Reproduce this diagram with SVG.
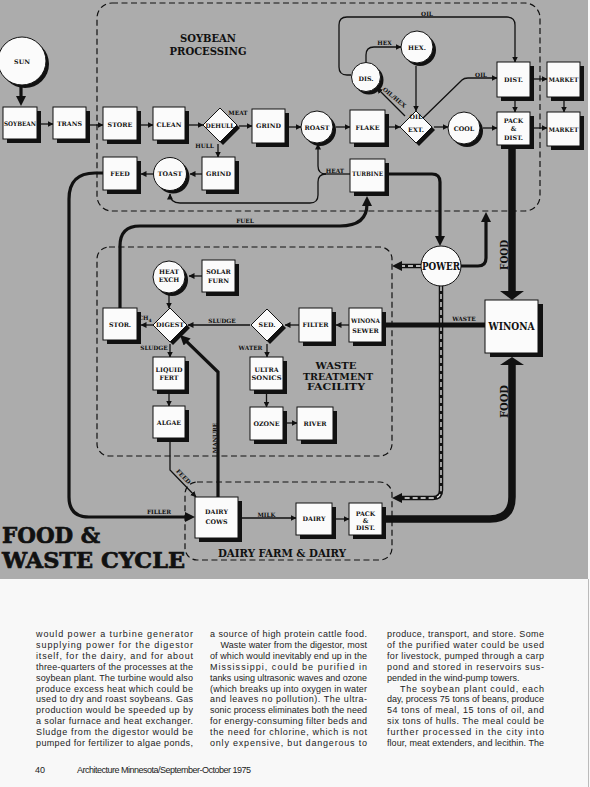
<svg xmlns="http://www.w3.org/2000/svg" width="590" height="787" viewBox="0 0 590 787">
<defs>
<style>
.bx{fill:#fbfbfb;stroke:#111;stroke-width:1}
.sh{fill:#111}
.t{font-family:"DejaVu Serif","Liberation Serif",serif;font-weight:bold;font-size:6.3px;text-anchor:middle;fill:#111}
.l{font-family:"DejaVu Serif","Liberation Serif",serif;font-weight:bold;font-size:5.8px;text-anchor:middle;fill:#111}
.h{font-family:"DejaVu Serif","Liberation Serif",serif;font-weight:bold;text-anchor:middle;fill:#111}
.c{fill:none;stroke:#111;stroke-width:1.3;marker-end:url(#a)}
.k{fill:none;stroke:#111;stroke-width:3.2;marker-end:url(#b)}
.d{fill:none;stroke:#111;stroke-width:1.2;stroke-dasharray:6 3.5}
.w1{fill:none;stroke:#111;stroke-width:4.5;marker-end:url(#b)}
.w2{fill:none;stroke:#eee;stroke-width:1.3;stroke-dasharray:5 3}
.p{font-family:"Liberation Sans",Arial,sans-serif;font-size:9px;fill:#222}
</style>
<marker id="a" viewBox="0 0 6 6" refX="5.5" refY="3" markerWidth="6" markerHeight="6" orient="auto" markerUnits="userSpaceOnUse"><path d="M0,0L6,3L0,6z" fill="#111"/></marker>
<marker id="b" viewBox="0 0 10 10" refX="2" refY="5" markerWidth="10" markerHeight="10" orient="auto" markerUnits="userSpaceOnUse"><path d="M0,0L10,5L0,10z" fill="#111"/></marker>
<marker id="c" viewBox="0 0 9 12" refX="1" refY="6" markerWidth="9" markerHeight="12" orient="auto" markerUnits="userSpaceOnUse"><path d="M0,0L9,6L0,12z" fill="#111"/></marker>
</defs>
<rect x="0" y="0" width="590" height="787" fill="#f8f8f8"/>
<rect x="0" y="0" width="588" height="579" fill="#acacac"/>
<line x1="588.5" y1="579" x2="588.5" y2="787" stroke="#bbb" stroke-width="1"/>

<g id="groups">
<rect class="d" x="97" y="3" width="443" height="208" rx="15"/>
<rect class="d" x="97" y="247" width="295" height="209" rx="12"/>
<rect class="d" x="185" y="482" width="207" height="78" rx="12"/>
<text class="h" font-size="11.5" x="208" y="42" textLength="56" lengthAdjust="spacingAndGlyphs">SOYBEAN</text>
<text class="h" font-size="11.5" x="208" y="54.5" textLength="77" lengthAdjust="spacingAndGlyphs">PROCESSING</text>
<text class="h" font-size="9" x="336" y="369" textLength="41" lengthAdjust="spacingAndGlyphs">WASTE</text>
<text class="h" font-size="9" x="338" y="379.5" textLength="70" lengthAdjust="spacingAndGlyphs">TREATMENT</text>
<text class="h" font-size="9" x="336" y="390" textLength="58" lengthAdjust="spacingAndGlyphs">FACILITY</text>
<text class="h" font-size="10.5" x="282" y="557" textLength="128" lengthAdjust="spacingAndGlyphs">DAIRY  FARM &amp; DAIRY</text>
<text class="h" font-size="23" x="2" y="543" style="text-anchor:start" stroke="#111" stroke-width="0.7" textLength="98" lengthAdjust="spacingAndGlyphs">FOOD &amp;</text>
<text class="h" font-size="23" x="2" y="568" style="text-anchor:start" stroke="#111" stroke-width="0.7" textLength="183" lengthAdjust="spacingAndGlyphs">WASTE CYCLE</text>
</g>

<g id="connectors">
<path class="c" d="M41,124H53"/>
<path class="c" d="M90,125H103"/>
<path class="c" d="M141,125H153"/>
<path class="c" d="M189,125H203"/>
<path class="c" d="M239,126H252"/>
<path class="c" d="M289,127H301"/>
<path class="c" d="M336,127H350"/>
<path class="c" d="M389,127H400"/>
<path class="c" d="M434,127H448"/>
<path class="c" d="M483,128H497"/>
<path class="c" d="M534,79H547"/>
<path class="c" d="M534,128H547"/>
<path class="c" d="M564,101V112"/>
<path class="c" d="M515,101V112"/>
<path class="c" d="M218,144V157"/>
<path class="c" d="M202,174H190"/>
<path class="c" d="M153,174H141"/>
<path fill="none" stroke="#111" stroke-width="1.3" d="M350,174H326"/>
<path class="c" d="M326,174Q318,174 318,166V144"/>
<path class="c" d="M326,174Q318,174 318,182V195Q318,203 310,203H180Q170,203 170,194"/>
<path class="c" d="M351,75H347Q339,75 339,67V25Q339,17 347,17H507Q515,17 515,25V62"/>
<path class="c" d="M366,62V55Q366,47 374,47H401"/>
<path class="c" d="M416,66V111"/>
<path class="c" d="M405,116L377,88"/>
<path class="c" d="M423,118L462,80Q464,78 468,78H497"/>
<path class="k" d="M21,86V98"/>
<path class="k" d="M120,308V246Q120,226 140,226H340Q367,226 367,204"/>
<path class="k" d="M389,174H432Q440,174 440,182V238"/>
<path class="k" stroke-width="3.5" d="M103,173H95Q69,173 69,199V497Q69,517 89,517H187"/>
<path class="k" d="M461,266H478Q486,266 486,258V220"/>
<path class="w1" d="M421,266H400"/>
<path class="w2" d="M421,266H402"/>
<path class="w1" d="M441,286V490Q441,498 433,498H400"/>
<path class="w2" d="M441,286V490Q441,498 433,498H402"/>
<path fill="none" stroke="#111" stroke-width="7.5" d="M512,149V292"/>
<polygon points="500,291 524,291 512,300" fill="#111"/>
<path fill="none" stroke="#111" stroke-width="7.5" d="M386,519H490Q512,519 512,497V364"/>
<polygon points="500,365 524,365 512,357" fill="#111"/>
<path fill="none" stroke="#111" stroke-width="5" marker-end="url(#c)" d="M485,325H377"/>
<path class="c" d="M202,276H189"/>
<path class="c" d="M169,295V308"/>
<path class="c" d="M153,325H141"/>
<path class="c" d="M250,325H188"/>
<path class="c" d="M299,325H285"/>
<path class="c" d="M349,325H336"/>
<path class="c" d="M170,344V357"/>
<path class="c" d="M169,394V406"/>
<path class="c" d="M267,344V357"/>
<path class="c" d="M266.5,394V407"/>
<path class="c" d="M287,423H297"/>
<path class="c" stroke-width="2" d="M170,442V470L196,497"/>
<path class="k" stroke-width="3.5" d="M218,497V372L185.7,340.6"/>
<path class="c" d="M242,518H296"/>
<path class="c" d="M336,519H349"/>
<text class="l" x="238" y="115">MEAT</text>
<text class="l" x="204.5" y="148">HULL</text>
<text class="l" x="335" y="172.5">HEAT</text>
<text class="l" x="245" y="223">FUEL</text>
<text class="l" x="427" y="15.5">OIL</text>
<text class="l" x="384.5" y="45">HEX</text>
<text class="l" x="481" y="76.5">OIL</text>
<text class="l" x="393" y="99" transform="rotate(40 393 99)">OIL/HEX</text>
<text class="l" x="464" y="321">WASTE</text>
<text class="l" x="145" y="320">CH<tspan font-size="4.5" dy="2">4</tspan></text>
<text class="l" x="222" y="323">SLUDGE</text>
<text class="l" x="154" y="350">SLUDGE</text>
<text class="l" x="250.5" y="350">WATER</text>
<text class="l" x="266.5" y="516.5">MILK</text>
<text class="l" x="159" y="514">FILLER</text>
<text class="l" x="182" y="478" transform="rotate(46 182 478)">FEED</text>
<text class="l" x="216.5" y="438" transform="rotate(-90 216.5 438)">MANURE</text>
<text class="h" font-size="11.5" x="508" y="255" transform="rotate(-90 508 255)" textLength="30" lengthAdjust="spacingAndGlyphs">FOOD</text>
<text class="h" font-size="11.5" x="508" y="401.5" transform="rotate(-90 508 401.5)" textLength="33" lengthAdjust="spacingAndGlyphs">FOOD</text>
</g>

<g id="n-sun"><circle class="sh" cx="25" cy="64" r="24"/><circle class="bx" cx="22" cy="61" r="24"/><text class="t" x="22" y="64">SUN</text></g>
<g id="n-soybean"><rect class="sh" x="7" y="111" width="34" height="32"/><rect class="bx" x="3" y="107" width="34" height="32"/><text class="t" x="20" y="126" textLength="32" lengthAdjust="spacingAndGlyphs">SOYBEAN</text></g>
<g id="n-trans"><rect class="sh" x="57" y="111" width="33" height="32"/><rect class="bx" x="53" y="107" width="33" height="32"/><text class="t" x="69.5" y="126">TRANS</text></g>
<g id="n-store"><rect class="sh" x="107" y="111" width="34" height="33"/><rect class="bx" x="103" y="107" width="34" height="33"/><text class="t" x="120" y="127">STORE</text></g>
<g id="n-clean"><rect class="sh" x="157" y="111" width="32" height="33"/><rect class="bx" x="153" y="107" width="32" height="33"/><text class="t" x="169" y="127">CLEAN</text></g>
<g id="n-dehull"><polygon class="sh" points="223,111 240,128 223,145 206,128"/><polygon class="bx" points="220,108 237,125 220,142 203,125"/><text class="t" x="220" y="127.5" textLength="29" lengthAdjust="spacingAndGlyphs">DEHULL</text></g>
<g id="n-grind1"><rect class="sh" x="256" y="113" width="33" height="34"/><rect class="bx" x="252" y="109" width="33" height="34"/><text class="t" x="268.5" y="128">GRIND</text></g>
<g id="n-roast"><circle class="sh" cx="320" cy="130" r="16"/><circle class="bx" cx="317" cy="127" r="16"/><text class="t" x="317" y="129.5">ROAST</text></g>
<g id="n-flake"><rect class="sh" x="354" y="114" width="35" height="33"/><rect class="bx" x="350" y="110" width="35" height="33"/><text class="t" x="367.5" y="129.5">FLAKE</text></g>
<g id="n-oilext"><polygon class="sh" points="419,114 435,130 419,146 403,130"/><polygon class="bx" points="416,111 432,127 416,143 400,127"/><text class="t" font-size="6.8" x="416" y="118.5">OIL</text><text class="t" font-size="6.8" x="416" y="131.5">EXT.</text></g>
<g id="n-cool"><circle class="sh" cx="467" cy="131" r="16"/><circle class="bx" cx="464" cy="128" r="16"/><text class="t" font-size="6.8" x="464" y="130.5">COOL</text></g>
<g id="n-packdist1"><rect class="sh" x="501" y="116" width="33" height="33"/><rect class="bx" x="497" y="112" width="33" height="33"/><text class="t" x="513.5" y="122.5">PACK</text><text class="t" x="513.5" y="131">&amp;</text><text class="t" x="513.5" y="139.5">DIST.</text></g>
<g id="n-dist"><rect class="sh" x="501" y="66" width="33" height="35"/><rect class="bx" x="497" y="62" width="33" height="35"/><text class="t" x="513.5" y="81.5">DIST.</text></g>
<g id="n-market1"><rect class="sh" x="551" y="66" width="33" height="35"/><rect class="bx" x="547" y="62" width="33" height="35"/><text class="t" x="563.5" y="81.5" textLength="30" lengthAdjust="spacingAndGlyphs">MARKET</text></g>
<g id="n-market2"><rect class="sh" x="551" y="116" width="33" height="34"/><rect class="bx" x="547" y="112" width="33" height="34"/><text class="t" x="563.5" y="131.5" textLength="30" lengthAdjust="spacingAndGlyphs">MARKET</text></g>
<g id="n-dis"><circle class="sh" cx="369" cy="80" r="14.5"/><circle class="bx" cx="366" cy="77" r="14.5"/><text class="t" x="366" y="80.5">DIS.</text></g>
<g id="n-hex"><circle class="sh" cx="420" cy="50" r="16"/><circle class="bx" cx="417" cy="47" r="16"/><text class="t" x="417" y="49.5">HEX.</text></g>
<g id="n-grind2"><rect class="sh" x="206" y="161" width="33" height="33"/><rect class="bx" x="202" y="157" width="33" height="33"/><text class="t" x="218.5" y="176">GRIND</text></g>
<g id="n-toast"><circle class="sh" cx="173" cy="177" r="16.5"/><circle class="bx" cx="170" cy="174" r="16.5"/><text class="t" x="170" y="176.3">TOAST</text></g>
<g id="n-feed"><rect class="sh" x="107" y="161" width="34" height="33"/><rect class="bx" x="103" y="157" width="34" height="33"/><text class="t" x="120" y="175.5">FEED</text></g>
<g id="n-turbine"><rect class="sh" x="354" y="163" width="35" height="33"/><rect class="bx" x="350" y="159" width="35" height="33"/><text class="t" x="367.5" y="176" textLength="31" lengthAdjust="spacingAndGlyphs">TURBINE</text></g>

<g id="n-power"><circle class="bx" cx="441" cy="266" r="20"/><text class="h" font-size="10.5" x="441" y="270" textLength="38" lengthAdjust="spacingAndGlyphs">POWER</text></g>
<g id="n-winona"><rect class="sh" x="490" y="304" width="53" height="53"/><rect class="bx" x="485" y="300" width="53" height="53"/><text class="h" font-size="11" x="511.5" y="330" textLength="46" lengthAdjust="spacingAndGlyphs">WINONA</text></g>

<g id="n-heatexch"><circle class="sh" cx="172" cy="280" r="16"/><circle class="bx" cx="169" cy="277" r="16"/><text class="t" x="169" y="273.5">HEAT</text><text class="t" x="169" y="281.5">EXCH</text></g>
<g id="n-solarfurn"><rect class="sh" x="206" y="264" width="33" height="32"/><rect class="bx" x="202" y="260" width="33" height="32"/><text class="t" x="218.5" y="274">SOLAR</text><text class="t" x="218.5" y="283">FURN</text></g>
<g id="n-stor"><rect class="sh" x="107" y="312" width="34" height="32"/><rect class="bx" x="103" y="308" width="34" height="32"/><text class="t" x="120" y="327">STOR.</text></g>
<g id="n-digest"><polygon class="sh" points="173,311 190,328 173,345 156,328"/><polygon class="bx" points="170,308 187,325 170,342 153,325"/><text class="t" x="170" y="327" textLength="28" lengthAdjust="spacingAndGlyphs">DIGEST</text></g>
<g id="n-sed"><polygon class="sh" points="270,312 286,328 270,344 254,328"/><polygon class="bx" points="267,309 283,325 267,341 251,325"/><text class="t" x="267" y="327">SED.</text></g>
<g id="n-filter"><rect class="sh" x="303" y="312" width="33" height="34"/><rect class="bx" x="299" y="308" width="33" height="34"/><text class="t" x="315.5" y="327">FILTER</text></g>
<g id="n-sewer"><rect class="sh" x="353" y="312" width="33" height="34"/><rect class="bx" x="349" y="308" width="33" height="34"/><text class="t" x="365.5" y="322.5" textLength="29" lengthAdjust="spacingAndGlyphs">WINONA</text><text class="t" x="365.5" y="332.5">SEWER</text></g>
<g id="n-liquidfert"><rect class="sh" x="157" y="361" width="32" height="33"/><rect class="bx" x="153" y="357" width="32" height="33"/><text class="t" x="169" y="372">LIQUID</text><text class="t" x="169" y="379.5">FERT</text></g>
<g id="n-algae"><rect class="sh" x="157" y="410" width="32" height="32"/><rect class="bx" x="153" y="406" width="32" height="32"/><text class="t" x="169" y="424.5">ALGAE</text></g>
<g id="n-ultrasonics"><rect class="sh" x="254" y="361" width="33" height="33"/><rect class="bx" x="250" y="357" width="33" height="33"/><text class="t" x="266.5" y="372">ULTRA</text><text class="t" x="266.5" y="380" textLength="30" lengthAdjust="spacingAndGlyphs">SONICS</text></g>
<g id="n-ozone"><rect class="sh" x="254" y="411" width="33" height="33"/><rect class="bx" x="250" y="407" width="33" height="33"/><text class="t" x="266.5" y="425.5">OZONE</text></g>
<g id="n-river"><rect class="sh" x="301" y="411" width="36" height="33"/><rect class="bx" x="297" y="407" width="36" height="33"/><text class="t" x="315" y="425.5">RIVER</text></g>

<g id="n-dairycows"><rect class="sh" x="199" y="501" width="43" height="41"/><rect class="bx" x="195" y="497" width="43" height="41"/><text class="t" x="216.5" y="514">DAIRY</text><text class="t" x="216.5" y="524">COWS</text></g>
<g id="n-dairy"><rect class="sh" x="300" y="507" width="36" height="32"/><rect class="bx" x="296" y="503" width="36" height="32"/><text class="t" x="314" y="521">DAIRY</text></g>
<g id="n-packdist2"><rect class="sh" x="353" y="507" width="33" height="32"/><rect class="bx" x="349" y="503" width="33" height="32"/><text class="t" x="365.5" y="516">PACK</text><text class="t" x="365.5" y="522.5">&amp;</text><text class="t" x="365.5" y="530">DIST.</text></g>

<g id="page-text">
<text class="p" x="36" y="637" textLength="157" lengthAdjust="spacing">would power a turbine generator</text>
<text class="p" x="36" y="647.9" textLength="157" lengthAdjust="spacing">supplying power for the digestor</text>
<text class="p" x="36" y="658.8" textLength="157" lengthAdjust="spacing">itself, for the dairy, and for about</text>
<text class="p" x="36" y="669.7" textLength="157" lengthAdjust="spacing">three-quarters of the processes at the</text>
<text class="p" x="36" y="680.6" textLength="157" lengthAdjust="spacing">soybean plant. The turbine would also</text>
<text class="p" x="36" y="691.5" textLength="157" lengthAdjust="spacing">produce excess heat which could be</text>
<text class="p" x="36" y="702.4" textLength="157" lengthAdjust="spacing">used to dry and roast soybeans. Gas</text>
<text class="p" x="36" y="713.3" textLength="157" lengthAdjust="spacing">production would be speeded up by</text>
<text class="p" x="36" y="724.2" textLength="157" lengthAdjust="spacing">a solar furnace and heat exchanger.</text>
<text class="p" x="36" y="735.1" textLength="157" lengthAdjust="spacing">Sludge from the digestor would be</text>
<text class="p" x="36" y="746" textLength="157" lengthAdjust="spacing">pumped for fertilizer to algae ponds,</text>

<text class="p" x="210" y="637" textLength="157" lengthAdjust="spacing">a source of high protein cattle food.</text>
<text class="p" x="220.5" y="647.9" textLength="146.5" lengthAdjust="spacing">Waste water from the digestor, most</text>
<text class="p" x="210" y="658.8" textLength="157" lengthAdjust="spacing">of which would inevitably end up in the</text>
<text class="p" x="210" y="669.7" textLength="157" lengthAdjust="spacing">Mississippi, could be purified in</text>
<text class="p" x="210" y="680.6" textLength="157" lengthAdjust="spacing">tanks using ultrasonic waves and ozone</text>
<text class="p" x="210" y="691.5" textLength="157" lengthAdjust="spacing">(which breaks up into oxygen in water</text>
<text class="p" x="210" y="702.4" textLength="157" lengthAdjust="spacing">and leaves no pollution). The ultra-</text>
<text class="p" x="210" y="713.3" textLength="157" lengthAdjust="spacing">sonic process eliminates both the need</text>
<text class="p" x="210" y="724.2" textLength="157" lengthAdjust="spacing">for energy-consuming filter beds and</text>
<text class="p" x="210" y="735.1" textLength="157" lengthAdjust="spacing">the need for chlorine, which is not</text>
<text class="p" x="210" y="746" textLength="157" lengthAdjust="spacing">only expensive, but dangerous to</text>

<text class="p" x="387" y="637" textLength="157" lengthAdjust="spacing">produce, transport, and store. Some</text>
<text class="p" x="387" y="647.9" textLength="157" lengthAdjust="spacing">of the purified water could be used</text>
<text class="p" x="387" y="658.8" textLength="157" lengthAdjust="spacing">for livestock, pumped through a carp</text>
<text class="p" x="387" y="669.7" textLength="157" lengthAdjust="spacing">pond and stored in reservoirs sus-</text>
<text class="p" x="387" y="680.6">pended in the wind-pump towers.</text>
<text class="p" x="400" y="691.5" textLength="144" lengthAdjust="spacing">The soybean plant could, each</text>
<text class="p" x="387" y="702.4" textLength="157" lengthAdjust="spacing">day, process 75 tons of beans, produce</text>
<text class="p" x="387" y="713.3" textLength="157" lengthAdjust="spacing">54 tons of meal, 15 tons of oil, and</text>
<text class="p" x="387" y="724.2" textLength="157" lengthAdjust="spacing">six tons of hulls. The meal could be</text>
<text class="p" x="387" y="735.1" textLength="157" lengthAdjust="spacing">further processed in the city into</text>
<text class="p" x="387" y="746" textLength="157" lengthAdjust="spacing">flour, meat extenders, and lecithin. The</text>

<text class="p" x="35" y="773">40</text>
<text class="p" x="77" y="773" textLength="174" lengthAdjust="spacing">Architecture Minnesota/September-October 1975</text>
</g>
</svg>
